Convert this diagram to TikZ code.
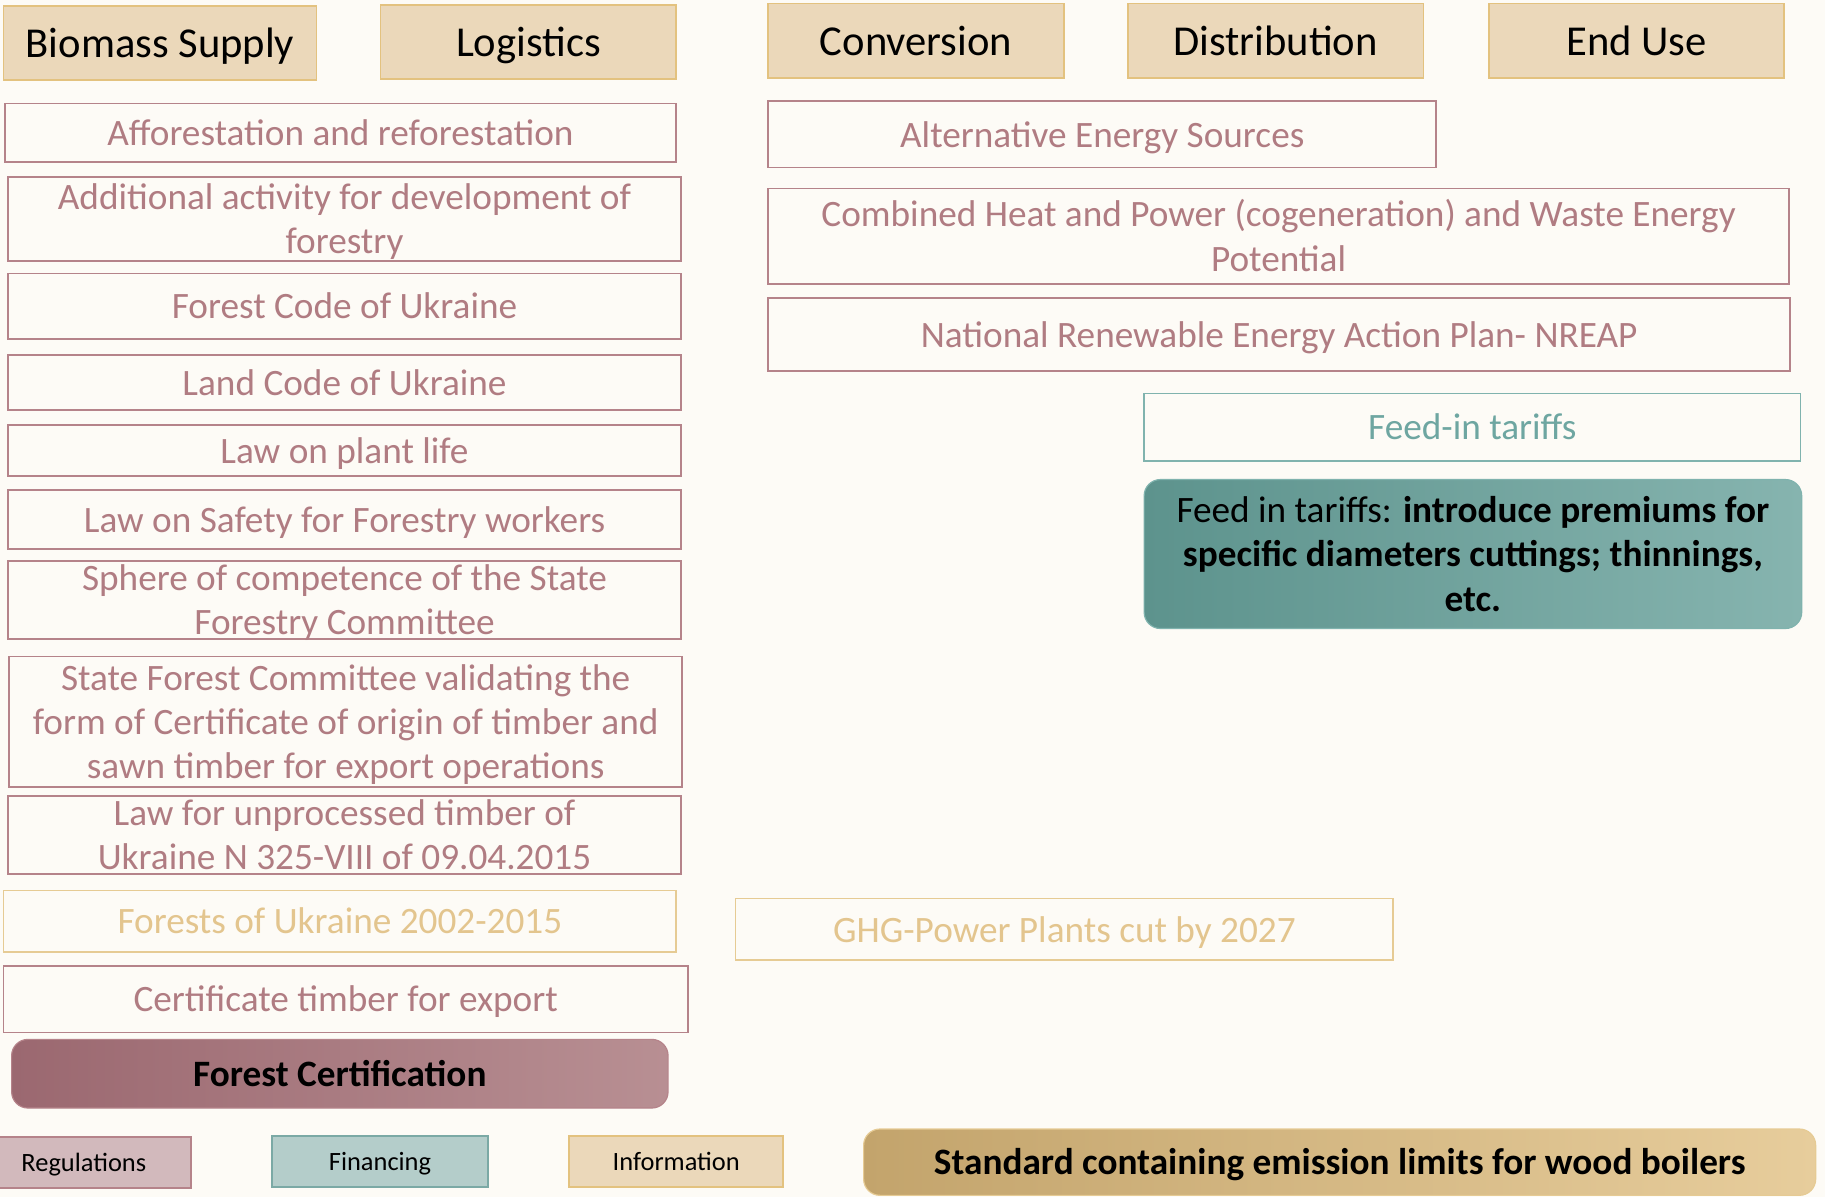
\documentclass[tikz,border=0pt]{standalone}
\usepackage{fontspec}
\setmainfont{Carlito}
\usetikzlibrary{positioning}
\definecolor{bgc}{HTML}{FDFBF6}
\definecolor{hdrfill}{HTML}{EBD8BA}
\definecolor{hdrdraw}{HTML}{E3C27F}
\definecolor{regdraw}{HTML}{B5838A}
\definecolor{regtext}{HTML}{B07C82}
\definecolor{regfill}{HTML}{D2B9BC}
\definecolor{golddraw}{HTML}{E6CB94}
\definecolor{goldtext}{HTML}{E3C58E}
\definecolor{tealdraw}{HTML}{80B3AE}
\definecolor{tealtext}{HTML}{6EA6A1}
\definecolor{finfill}{HTML}{B4CDCA}
\definecolor{findraw}{HTML}{7BA9A5}
\definecolor{certleft}{HTML}{9B6870}
\definecolor{certright}{HTML}{B88F93}
\definecolor{tealleft}{HTML}{5D938D}
\definecolor{tealright}{HTML}{86B4AF}
\definecolor{boilleft}{HTML}{C3A46C}
\definecolor{boilmid}{HTML}{E1C28A}
\definecolor{boilright}{HTML}{E7CD9C}
\begin{document}
\begin{tikzpicture}
[
    x=1pt, y=-1pt,
    every node/.style={align=center, inner sep=0pt},
    lines/.style={text height=21.9pt+#1, text depth=0pt},
    lines/.default=0pt,
    header/.style={draw=hdrdraw, fill=hdrfill, line width=1.5pt, font=\fontsize{36.6}{44}\selectfont, text height=25pt, text depth=0pt},
    measure/.style={draw=regdraw, line width=1.5pt, text=regtext, font=\fontsize{32}{38}\selectfont, lines},
    goldmeasure/.style={measure, draw=golddraw, text=goldtext},
    tealmeasure/.style={measure, draw=tealdraw, text=tealtext},
    focus/.style={rounded corners=14pt, line width=1pt, font=\fontsize{32}{38}\selectfont, lines},
    legend/.style={line width=1.5pt, font=\fontsize{22.7}{27}\selectfont, text height=15.5pt, text depth=0pt},
]
\useasboundingbox (0,0) rectangle (1568,1028);
\fill[bgc] (0,0) rectangle (1568,1028);

\node[header, minimum width=269, minimum height=64] (bio) at (137.5,37) {Biomass Supply};
\node[header, minimum width=254, minimum height=64] (logi) at (454,36) {Logistics};
\node[header, minimum width=254, minimum height=64] (conv) at (787,35) {Conversion};
\node[header, minimum width=254, minimum height=64] (distr) at (1096,35) {Distribution};
\node[header, minimum width=254, minimum height=64] (enduse) at (1406,35) {End Use};

\node[measure, minimum width=577, minimum height=50] (affor) at (292.5,114) {Afforestation and reforestation};
\node[measure, lines=38pt, minimum width=578, minimum height=72] (addit) at (296,188) {Additional activity for development of\\forestry};
\node[measure, minimum width=578, minimum height=56] (fcode) at (296,263) {Forest Code of Ukraine};
\node[measure, minimum width=578, minimum height=47] (lcode) at (296,328.5) {Land Code of Ukraine};
\node[measure, minimum width=578, minimum height=44] (plant) at (296,387) {Law on plant life};
\node[measure, minimum width=578, minimum height=51] (safety) at (296,446.5) {Law on Safety for Forestry workers};
\node[measure, lines=38pt, minimum width=578, minimum height=67] (sphere) at (296,515.5) {Sphere of competence of the State\\Forestry Committee};
\node[measure, lines=76pt, minimum width=578, minimum height=112] (sfc) at (297,620) {State Forest Committee validating the\\form of Certificate of origin of timber and\\sawn timber for export operations};
\node[measure, lines=38pt, minimum width=578, minimum height=67] (unproc) at (296,717.5) {Law for unprocessed timber of\\Ukraine N 325-VIII of 09.04.2015};
\node[goldmeasure, minimum width=578, minimum height=53] (forests) at (292,791.5) {Forests of Ukraine 2002-2015};
\node[measure, minimum width=588, minimum height=57] (certexp) at (297,858.5) {Certificate timber for export};
\node[focus, left color=certleft, right color=certright, draw=regdraw, minimum width=564, minimum height=59] (fcert) at (292,922.5) {\textbf{Forest Certification}};

\node[measure, minimum width=574, minimum height=57] (alten) at (947,115.5) {Alternative Energy Sources};
\node[measure, lines=38pt, minimum width=877, minimum height=82] (chp) at (1098.5,203) {Combined Heat and Power (cogeneration) and Waste Energy\\Potential};
\node[measure, minimum width=878, minimum height=63] (nreap) at (1099,287.5) {National Renewable Energy Action Plan- NREAP};
\node[tealmeasure, minimum width=564, minimum height=58] (feedin) at (1265,367) {Feed-in tariffs};
\node[focus, lines=76pt, left color=tealleft, right color=tealright, draw=tealdraw, minimum width=565, minimum height=128] (premium) at (1265.5,476) {Feed in tariffs: \textbf{introduce premiums for}\\\textbf{specific diameters cuttings; thinnings,}\\\textbf{etc.}};
\node[goldmeasure, minimum width=565, minimum height=53] (ghg) at (914.5,798.5) {GHG-Power Plants cut by 2027};
\node[focus, left color=boilleft, middle color=boilmid, right color=boilright, draw=golddraw, minimum width=818, minimum height=57] (boilers) at (1151,998.5) {\textbf{Standard containing emission limits for wood boilers}};

\node[legend, draw=regdraw, fill=regfill, minimum width=184, minimum height=44] (reg) at (72,999) {Regulations};
\node[legend, draw=findraw, fill=finfill, minimum width=185, minimum height=44] (fin) at (326.5,998) {Financing};
\node[legend, draw=hdrdraw, fill=hdrfill, minimum width=184, minimum height=44] (info) at (581,998) {Information};
\end{tikzpicture}
\end{document}
